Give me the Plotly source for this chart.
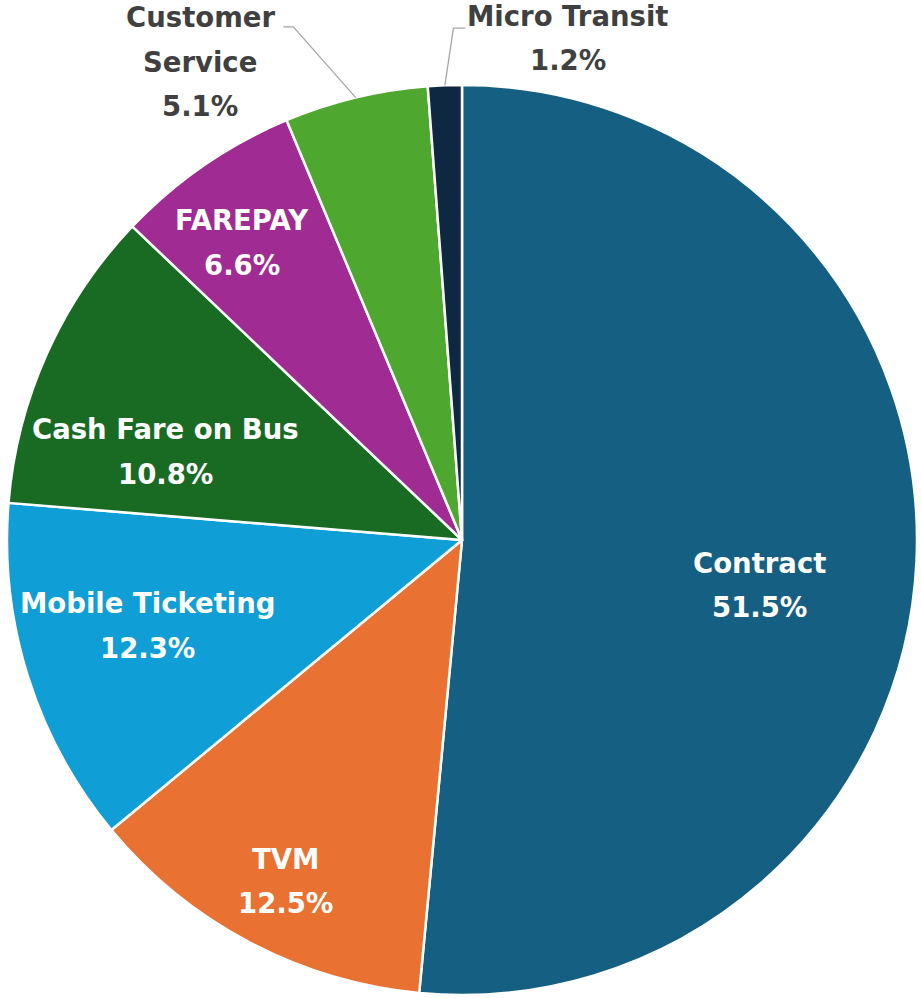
import math
import plotly.graph_objects as go

# ---- data ----
categories = ["Contract", "TVM", "Mobile Ticketing", "Cash Fare on Bus",
              "FAREPAY", "Customer Service", "Micro Transit"]
shares = [51.5, 12.5, 12.3, 10.8, 6.6, 5.1, 1.2]
colors = ["#156082", "#E97132", "#0F9ED5", "#196B24",
          "#A02B93", "#4EA72E", "#0E2841"]

# ---- style: label placement (radius fraction of R, angle offset deg from slice middle) ----
label_style = {
    "Contract": (0.662, 5.9, "inside"),
    "TVM": (0.844, -0.5, "inside"),
    "Mobile Ticketing": (0.716, 2.2, "inside"),
    "Cash Fare on Bus": (0.679, -7.5, "inside"),
    "FAREPAY": (0.813, -1.9, "inside"),
    "Customer Service": (1.198, -15.2, "outside"),
    "Micro Transit": (1.128, 14.1, "outside"),
}
# leader lines: elbow (radius fraction, angle offset from mid), tail px
leader_style = {
    "Customer Service": (1.187, -4.7, -10),
    "Micro Transit": (1.125, 1.2, 12),
}

W, H = 921, 998
ML, MR, MT, MB = 7, 4, 85, 3
PW = W - ML - MR
PH = H - MT - MB
R = min(PW, PH) / 2
CX, CY = ML + PW / 2, MT + PH / 2

def to_paper(px, py):
    return (px - ML) / PW, 1 - (py - MT) / PH

def polar(frac, ang):
    a = math.radians(ang)
    return CX + frac * R * math.sin(a), CY - frac * R * math.cos(a)

total = sum(shares)
FONT = "DejaVu Sans"
FS = 27.5
annotations = []
shapes = []
cum = 0.0
for name, val in zip(categories, shares):
    mid = (cum + val / 2) / total * 360
    cum += val
    frac, off, pos = label_style[name]
    px, py = polar(frac, mid + off)
    color = "white" if pos == "inside" else "#404040"
    if name == "Customer Service":
        lines = ["Customer", "Service", f"{val:.1f}%"]
    else:
        lines = [name, f"{val:.1f}%"]
    n = len(lines)
    step = 44.5
    for i, t in enumerate(lines):
        ly = py + (i - (n - 1) / 2) * step
        x, y = to_paper(px, ly)
        annotations.append(dict(
            x=x, y=y, xref="paper", yref="paper", text=f"<b>{t}</b>",
            showarrow=False, xanchor="center", yanchor="middle",
            font=dict(family=FONT, size=FS, color=color)))
    if name in leader_style:
        ef, eoff, tail = leader_style[name]
        sx, sy = polar(1.0, mid)
        ex, ey = polar(ef, mid + eoff)
        tx, ty = ex + tail, ey
        p = [to_paper(*q) for q in [(sx, sy), (ex, ey), (tx, ty)]]
        shapes.append(dict(
            type="path", xref="paper", yref="paper",
            path=f"M {p[0][0]} {p[0][1]} L {p[1][0]} {p[1][1]} L {p[2][0]} {p[2][1]}",
            line=dict(color="#A6A6A6", width=1.3)))

fig = go.Figure(go.Pie(
    labels=categories, values=shares, sort=False, direction="clockwise",
    rotation=0, textinfo="none", hole=0,
    marker=dict(colors=colors, line=dict(color="white", width=2.5)),
    domain=dict(x=[0, 1], y=[0, 1]), showlegend=False,
))
fig.update_layout(
    width=W, height=H, margin=dict(l=ML, r=MR, t=MT, b=MB),
    paper_bgcolor="white", plot_bgcolor="white",
    annotations=annotations, shapes=shapes, showlegend=False,
)
fig.write_html("out.html", config={"displayModeBar": False},
               post_script="document.body.style.margin='0';document.body.style.overflow='hidden';")
